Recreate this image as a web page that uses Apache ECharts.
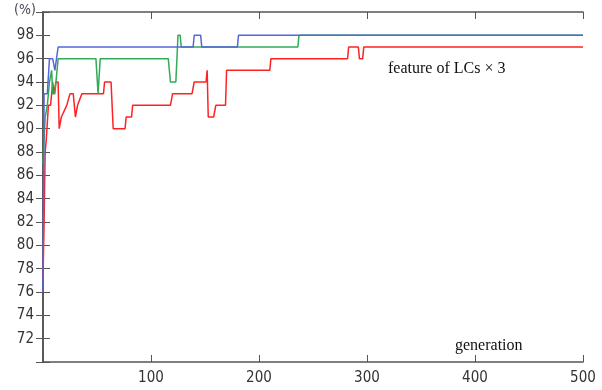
<!DOCTYPE html>
<html><head><meta charset="utf-8">
<script src="https://cdn.jsdelivr.net/npm/echarts@6/dist/echarts.min.js"></script>
<style>html,body{margin:0;padding:0;background:#fff}#c{width:602px;height:390px}</style>
</head><body><div id="c"></div>
<script>
// generation breakpoints and values (%)
const blueGen = [0,1,4,6,9,11,12,14,139,140,146,147,180,181,500];
const blueVal = [76,93,93,96,96,95,95,97,97,98,98,97,97,98,98];
const greenGen = [0,2,4,6,8,9,11,14,49,51,52,53,116,118,123,125,127,128,236,237,500];
const greenVal = [87,91,92,94,95,93,93,96,96,93,93,96,96,94,94,98,98,97,97,98,98];
const redGen = [0,1,2,3,5,7,9,10,12,14,15,17,22,25,28,30,32,36,56,57,63,65,76,77,82,83,118,120,138,140,151,152,153,158,160,169,170,210,211,282,283,292,293,296,297,500];
const redVal = [77,82,88,89,92,92,94,93,94,94,90,91,92,93,93,91,92,93,93,94,94,90,90,91,91,92,92,93,93,94,94,95,91,91,92,92,95,95,96,96,97,97,96,96,97,97];
const xTicks = [100,200,300,400,500];
const yTicks = [72,74,76,78,80,82,84,86,88,90,92,94,96,98];

const pairs = (g, v) => g.map((x, i) => [x, v[i]]);
const axisColor = '#555';
const labelFont = "'Liberation Sans Narrow','DejaVu Sans Condensed',sans-serif";
const chart = echarts.init(document.getElementById('c'));
chart.setOption({
  animation: false,
  grid: {left: 43, right: 19, top: 12, bottom: 28},
  xAxis: [{
    type: 'value', min: 0, max: 500, interval: 100, position: 'bottom',
    axisLine: {show: true, lineStyle: {color: axisColor, width: 1.6}},
    axisTick: {show: true, inside: true, length: 7, lineStyle: {color: axisColor}},
    splitLine: {show: false},
    axisLabel: {color: '#333', fontSize: 15, fontFamily: labelFont, margin: 9,
      formatter: v => xTicks.includes(v) ? String(v) : ''}
  }, {
    type: 'value', min: 0, max: 500, interval: 100, position: 'top',
    axisLine: {show: true, lineStyle: {color: axisColor, width: 1.6}},
    axisTick: {show: true, inside: true, length: 7, lineStyle: {color: axisColor}},
    splitLine: {show: false}, axisLabel: {show: false}
  }],
  yAxis: [{
    type: 'value', min: 70, max: 100, interval: 2, position: 'left',
    axisLine: {show: true, lineStyle: {color: axisColor, width: 1.6}},
    axisTick: {show: true, inside: true, length: 7, lineStyle: {color: axisColor}},
    splitLine: {show: false},
    axisLabel: {color: '#333', fontSize: 15, fontFamily: labelFont, margin: 9,
      formatter: v => yTicks.includes(v) ? String(v) : ''}
  }, {
    type: 'value', min: 70, max: 100, interval: 2, position: 'right',
    axisLine: {show: true, lineStyle: {color: axisColor, width: 1.6}},
    axisTick: {show: true, inside: true, length: 7, lineStyle: {color: axisColor}},
    splitLine: {show: false}, axisLabel: {show: false}
  }],
  series: [
    {type: 'line', data: pairs(redGen, redVal), showSymbol: false, lineStyle: {color: '#ff2222', width: 1.5}, itemStyle:{color:'#ff2222'}},
    {type: 'line', data: pairs(greenGen, greenVal), showSymbol: false, lineStyle: {color: '#33aa55', width: 1.5}, itemStyle:{color:'#33aa55'}},
    {type: 'line', data: pairs(blueGen, blueVal), showSymbol: false, lineStyle: {color: '#5566dd', width: 1.5}, itemStyle:{color:'#5566dd'}}
  ],
  graphic: [
    {type: 'text', left: 14, top: 3, style: {text: '(%)', fill: '#445', font: "14px " + labelFont}},
    {type: 'text', left: 388, top: 61, style: {text: 'feature of LCs \u00d7 3', fill: '#111', font: "16px 'Liberation Serif',serif"}},
    {type: 'text', left: 455, top: 338, style: {text: 'generation', fill: '#111', font: "16px 'Liberation Serif',serif"}}
  ]
});
</script></body></html>
